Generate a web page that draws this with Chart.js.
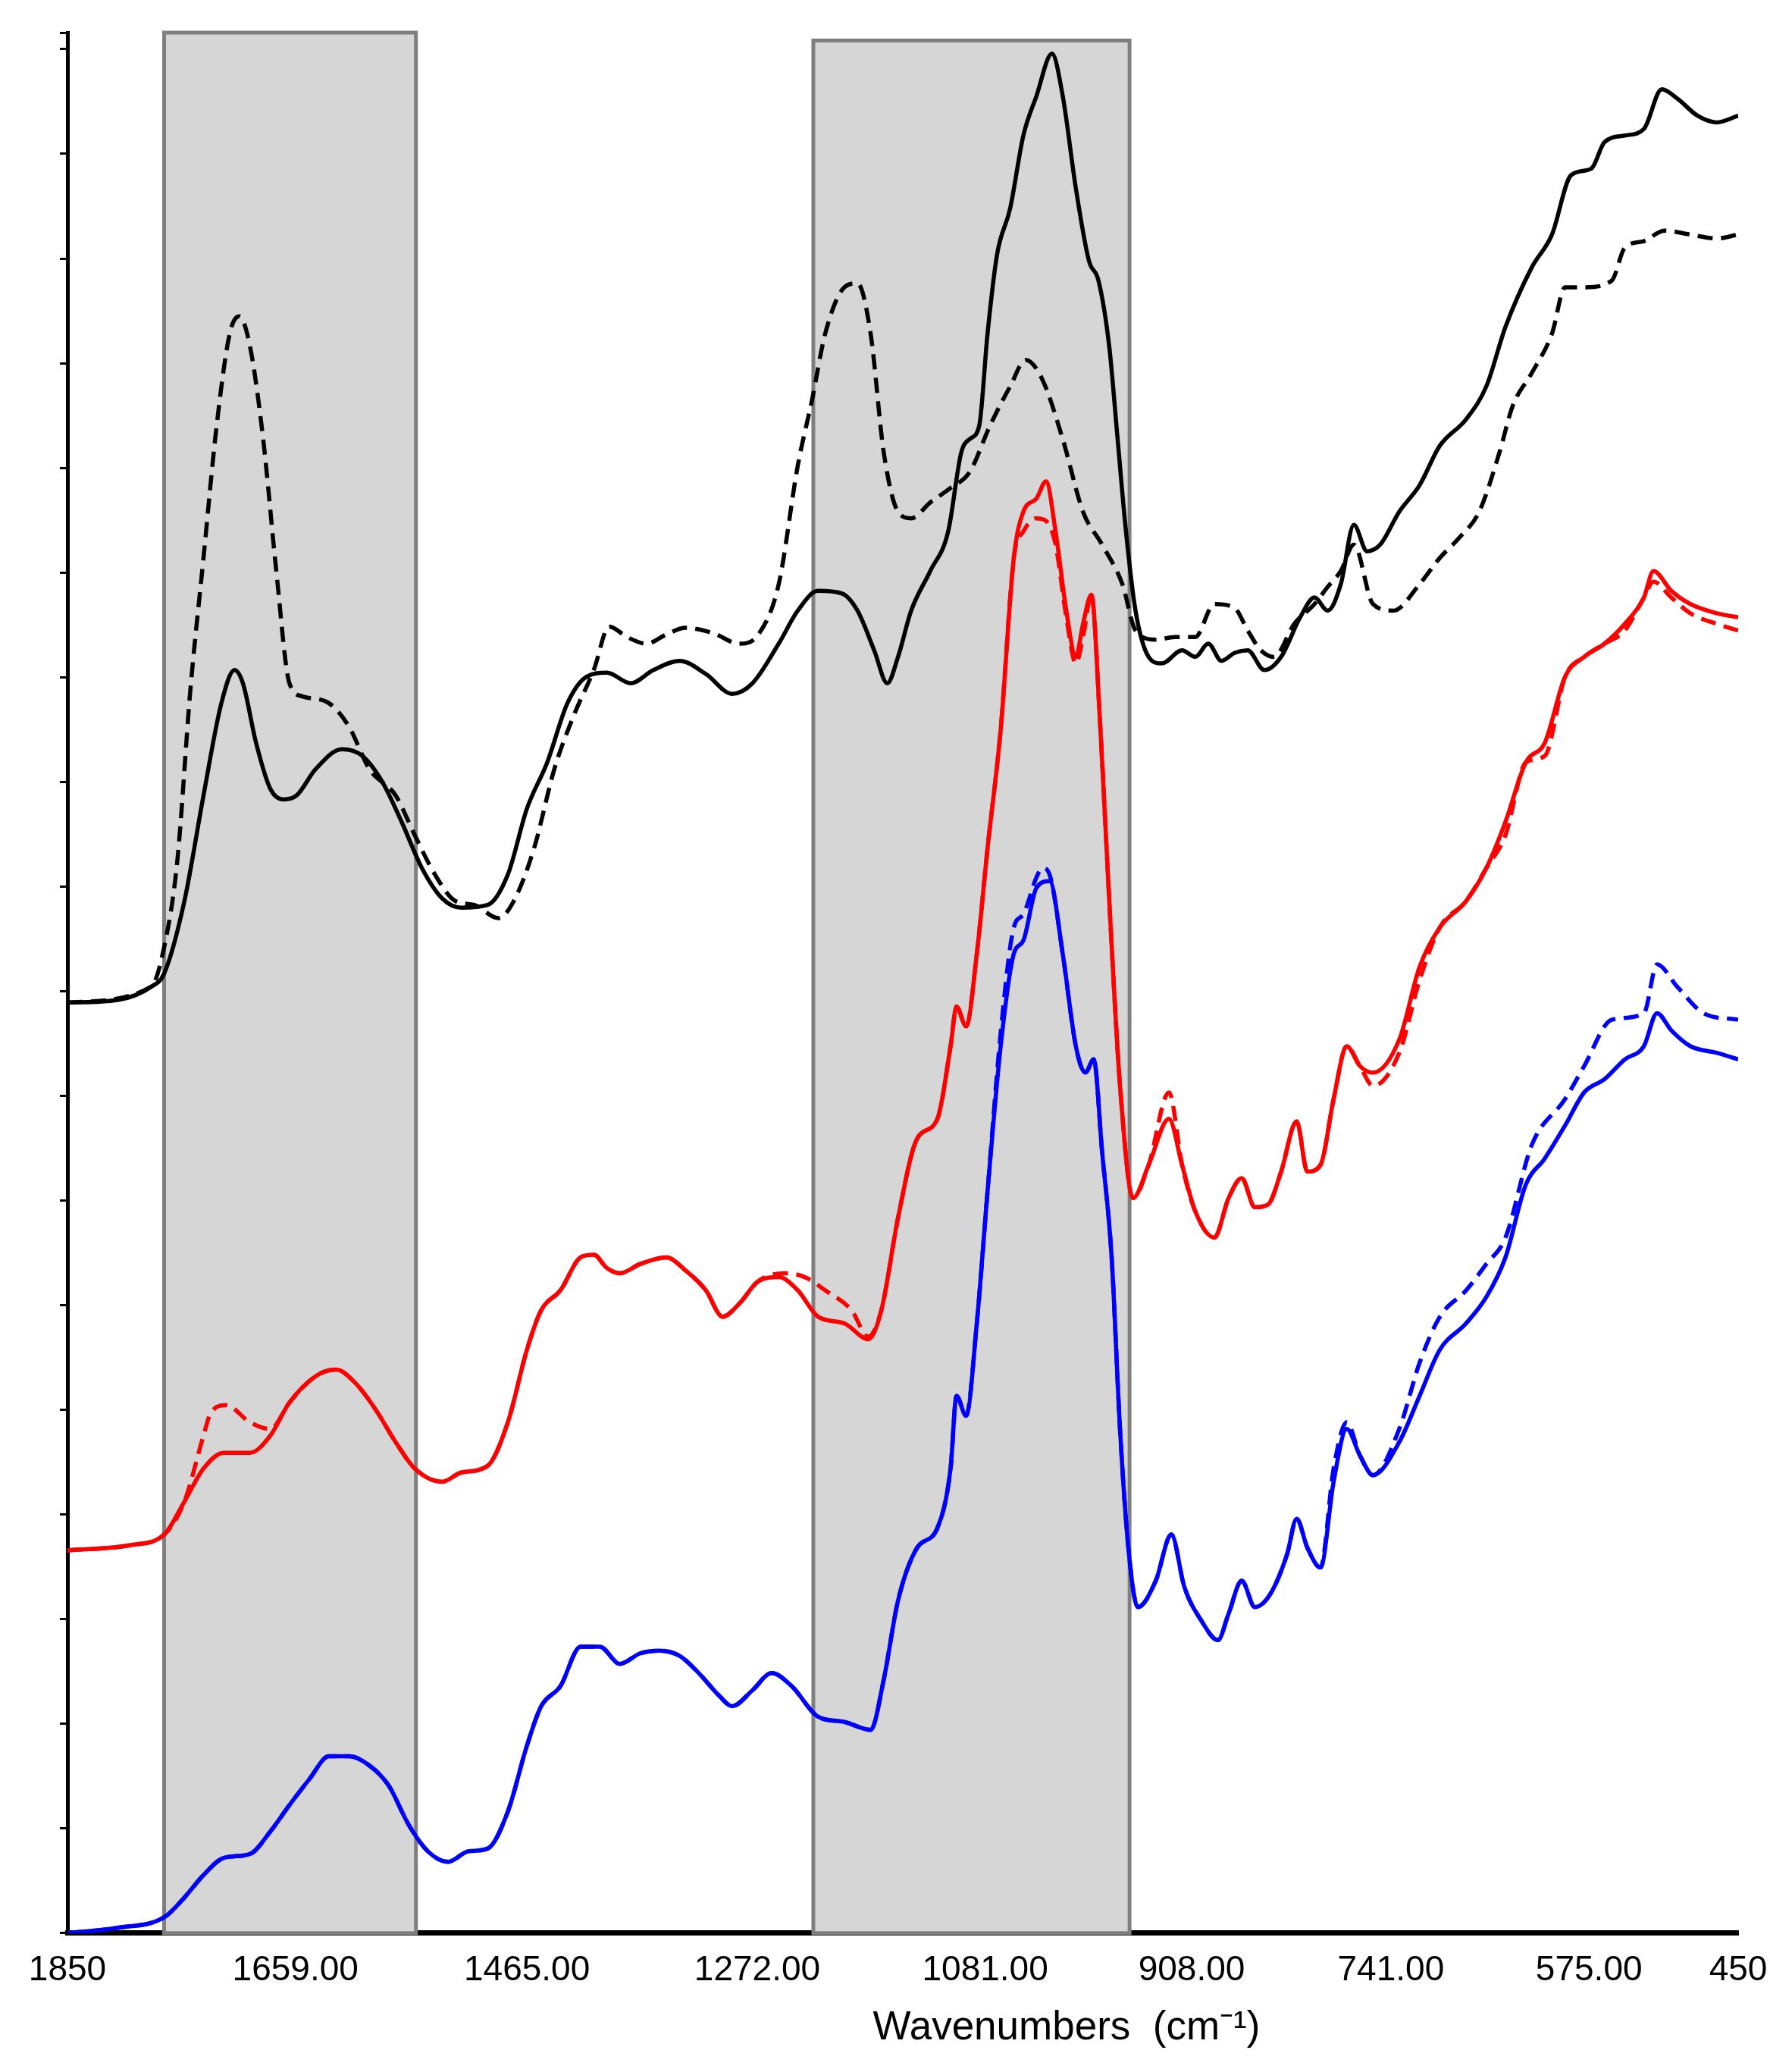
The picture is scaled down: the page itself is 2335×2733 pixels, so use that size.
<!DOCTYPE html>
<html><head><meta charset="utf-8">
<script src="https://cdn.jsdelivr.net/npm/chart.js@4/dist/chart.umd.min.js"></script>
<style>html,body{margin:0;padding:0;background:#fff}#wrap{width:2335px;height:2733px}</style>
</head><body><div id="wrap"><canvas id="c" width="2335" height="2733"></canvas></div>
<script>
const xTicks=[1850,1659,1465,1272,1081,908,741,575,450];
const xTitle='Wavenumbers  (cm\u207B\u00B9)';
const shadedBands=[[1769,1558,1440],[1225,960,1434]];
const blackSolid=[[1850,705],[1808,707],[1780,717],[1769,727],[1752,782],[1736,862],[1721,932],[1710,957],[1703,947],[1692,902],[1680,867],[1669,859],[1658,862],[1642,882],[1620,897],[1603,892],[1586,872],[1570,842],[1553,807],[1536,784],[1520,777],[1498,779],[1481,802],[1465,852],[1448,887],[1431,932],[1415,952],[1398,955],[1378,947],[1359,957],[1337,964],[1315,954],[1293,939],[1276,947],[1254,977],[1238,1002],[1221,1017],[1201,1015],[1188,1002],[1174,972],[1163,947],[1154,967],[1143,1002],[1127,1032],[1112,1062],[1101,1122],[1094,1132],[1086,1142],[1079,1212],[1071,1272],[1060,1307],[1049,1362],[1038,1392],[1025,1424],[1016,1392],[1005,1322],[994,1267],[986,1252],[977,1202],[970,1132],[963,1062],[955,1002],[944,967],[933,962],[916,972],[905,967],[894,977],[883,964],[872,970],[861,972],[847,957],[833,967],[817,997],[805,1012],[794,1002],[783,1022],[772,1067],[761,1047],[750,1052],[734,1077],[717,1097],[700,1127],[678,1147],[661,1172],[645,1217],[623,1262],[606,1287],[590,1332],[573,1337],[562,1357],[545,1362],[529,1367],[514,1397],[501,1390],[484,1377],[468,1372],[450,1377]];
const blackDashed=[[1850,705],[1780,717],[1769,747],[1758,812],[1747,942],[1736,1042],[1725,1142],[1714,1212],[1706,1225],[1697,1202],[1686,1132],[1675,1032],[1664,947],[1653,937],[1631,932],[1614,914],[1597,882],[1575,862],[1559,832],[1542,802],[1525,782],[1509,779],[1489,769],[1476,782],[1459,822],[1442,882],[1426,922],[1409,957],[1396,990],[1381,982],[1365,977],[1348,984],[1332,989],[1309,985],[1287,977],[1271,984],[1254,1022],[1238,1112],[1226,1162],[1215,1212],[1199,1247],[1188,1250],[1177,1212],[1166,1122],[1154,1077],[1143,1072],[1127,1084],[1110,1095],[1094,1107],[1077,1142],[1060,1172],[1047,1192],[1033,1177],[1016,1132],[999,1077],[983,1052],[966,1022],[955,987],[938,980],[922,982],[905,982],[889,1007],[872,1004],[861,987],[850,972],[839,967],[822,992],[805,1007],[794,1020],[783,1032],[772,1052],[756,1007],[739,1002],[717,1022],[700,1042],[684,1057],[667,1077],[650,1122],[639,1157],[623,1182],[606,1212],[595,1247],[579,1247],[556,1252],[545,1277],[529,1282],[512,1290],[490,1287],[468,1284],[450,1287]];
const redSolid=[[1850,290],[1797,294],[1769,302],[1752,327],[1736,352],[1719,364],[1697,364],[1680,377],[1664,402],[1642,422],[1625,427],[1609,417],[1592,397],[1575,372],[1559,352],[1536,342],[1520,349],[1498,354],[1481,387],[1465,442],[1453,472],[1437,487],[1420,512],[1409,514],[1398,504],[1387,500],[1370,507],[1348,512],[1332,502],[1315,487],[1301,467],[1287,477],[1271,494],[1254,497],[1238,487],[1221,467],[1199,462],[1179,450],[1168,472],[1154,542],[1138,602],[1121,617],[1110,672],[1105,702],[1097,687],[1088,742],[1079,822],[1068,912],[1057,1042],[1049,1077],[1038,1087],[1030,1100],[1022,1062],[1013,1002],[1005,967],[999,992],[992,1014],[985,922],[977,782],[968,642],[957,557],[944,582],[927,617],[916,582],[905,547],[889,527],[877,557],[866,572],[855,550],[844,552],[833,577],[820,615],[811,577],[800,582],[789,632],[778,672],[767,657],[756,652],[734,677],[717,732],[700,762],[678,782],[661,807],[645,842],[628,887],[612,902],[595,952],[579,967],[562,977],[545,992],[529,1012],[521,1032],[506,1017],[490,1007],[468,1000],[450,997]];
const redDashed=[[1850,290],[1797,294],[1769,302],[1752,327],[1736,377],[1730,394],[1717,400],[1697,387],[1680,382],[1664,402],[1642,422],[1625,427],[1609,417],[1592,397],[1575,372],[1559,352],[1536,342],[1520,349],[1498,354],[1481,387],[1465,442],[1453,472],[1437,487],[1420,512],[1409,514],[1398,504],[1387,500],[1370,507],[1348,512],[1332,502],[1315,487],[1301,467],[1287,477],[1271,494],[1249,500],[1232,497],[1215,487],[1193,472],[1179,452],[1168,472],[1154,542],[1138,602],[1121,617],[1110,672],[1105,702],[1097,687],[1088,742],[1079,822],[1068,912],[1057,1042],[1049,1062],[1038,1072],[1030,1070],[1022,1052],[1013,997],[1005,962],[999,982],[992,1014],[985,922],[977,782],[968,642],[957,557],[944,582],[927,637],[916,582],[905,547],[889,527],[877,557],[866,572],[855,550],[844,552],[833,577],[820,615],[811,577],[800,582],[789,632],[778,672],[767,657],[756,642],[734,667],[717,722],[700,762],[678,782],[661,807],[645,832],[628,887],[612,892],[595,952],[579,967],[562,977],[545,987],[529,1012],[521,1024],[506,1012],[490,1000],[468,992],[450,987]];
const blueSolid=[[1850,0],[1808,4],[1769,12],[1752,27],[1736,44],[1719,57],[1697,60],[1680,77],[1664,97],[1647,117],[1631,134],[1614,134],[1597,127],[1581,112],[1564,82],[1548,62],[1531,54],[1514,62],[1498,64],[1481,92],[1465,142],[1453,172],[1437,187],[1420,217],[1404,217],[1387,204],[1370,212],[1354,214],[1337,210],[1321,197],[1304,180],[1293,172],[1276,184],[1260,197],[1243,187],[1221,164],[1199,160],[1177,154],[1166,192],[1154,252],[1138,292],[1121,307],[1110,352],[1105,407],[1097,392],[1088,462],[1079,562],[1068,672],[1057,742],[1049,752],[1038,792],[1027,797],[1016,742],[1005,672],[997,652],[990,662],[983,592],[975,512],[968,382],[961,292],[953,247],[938,267],[925,302],[914,262],[900,237],[886,222],[877,242],[866,267],[855,247],[842,257],[828,287],[820,314],[811,292],[800,277],[789,342],[778,382],[767,362],[756,347],[734,372],[717,407],[700,442],[678,462],[661,482],[645,512],[628,567],[612,587],[595,612],[579,637],[562,647],[545,662],[529,672],[518,697],[506,684],[490,672],[468,667],[450,662]];
const blueDashed=[[1850,0],[1808,4],[1769,12],[1752,27],[1736,44],[1719,57],[1697,60],[1680,77],[1664,97],[1647,117],[1631,134],[1614,134],[1597,127],[1581,112],[1564,82],[1548,62],[1531,54],[1514,62],[1498,64],[1481,92],[1465,142],[1453,172],[1437,187],[1420,217],[1404,217],[1387,204],[1370,212],[1354,214],[1337,210],[1321,197],[1304,180],[1293,172],[1276,184],[1260,197],[1243,187],[1221,164],[1199,160],[1177,154],[1166,192],[1154,252],[1138,292],[1121,307],[1110,352],[1105,407],[1097,392],[1088,462],[1079,562],[1068,682],[1057,762],[1049,772],[1038,800],[1033,807],[1027,802],[1016,742],[1005,672],[997,652],[990,662],[983,592],[975,512],[968,382],[961,292],[953,247],[938,267],[925,302],[914,262],[900,237],[886,222],[877,242],[866,267],[855,247],[842,257],[828,287],[820,314],[811,292],[800,277],[789,352],[778,387],[767,362],[756,347],[734,382],[717,432],[700,467],[678,487],[661,507],[645,527],[623,597],[595,632],[579,657],[556,692],[529,697],[518,734],[501,717],[479,697],[450,692]];

const toPts=a=>a.map(p=>({x:p[0],y:p[1]}));
function ds(data,color,dash){return {data:toPts(data),borderColor:color,borderWidth:5.5,borderDash:dash?[20,11]:[],pointRadius:0,fill:false,cubicInterpolationMode:'monotone'};}

const bandsPlugin={id:'bands',beforeDatasetsDraw(chart){
  const {ctx,scales:{x,y}}=chart;ctx.save();
  shadedBands.forEach(b=>{const x1=x.getPixelForValue(b[0]),x2=x.getPixelForValue(b[1]);const yt=y.getPixelForValue(b[2]),yb=y.getPixelForValue(0);
    ctx.fillStyle='#d6d6d6';ctx.fillRect(x1,yt,x2-x1,yb-yt);ctx.strokeStyle='#7f7f7f';ctx.lineWidth=5;ctx.strokeRect(x1,yt,x2-x1,yb-yt);});
  ctx.restore();},
 afterDraw(chart){const {ctx,chartArea:a}=chart;ctx.save();ctx.fillStyle='#000';ctx.font='53px "Liberation Sans", Arial';ctx.textAlign='center';ctx.textBaseline='middle';
  ctx.fillText(xTitle,a.left+0.598*(a.right-a.left),2675);ctx.restore();}};

new Chart(document.getElementById('c'),{type:'line',
 data:{datasets:[ds(blackSolid,'#000',false),ds(blackDashed,'#000',true),ds(redSolid,'#ff0000',false),ds(redDashed,'#ff0000',true),ds(blueSolid,'#0000ff',false),ds(blueDashed,'#0000ff',true)]},
 options:{responsive:false,animation:false,devicePixelRatio:1,
  layout:{padding:{left:79,right:42,top:43,bottom:84}},
  plugins:{legend:{display:false},tooltip:{enabled:false}},
  scales:{
   x:{type:'linear',reverse:true,min:450,max:1850,
     afterBuildTicks:s=>{s.ticks=xTicks.map(v=>({value:v}));},
     afterFit:s=>{s.paddingLeft=0;s.paddingRight=0;},
     ticks:{autoSkip:false,maxRotation:0,color:'#000',font:{family:'Liberation Sans, Arial',size:46},padding:22,
       callback:v=>(v===1850||v===450)?String(v):v.toFixed(2)},
     grid:{display:true,drawOnChartArea:false,drawTicks:false},
     border:{display:true,color:'#000',width:7},
     title:{display:false}},
   y:{type:'linear',min:0,max:1440,
     ticks:{stepSize:79.3,callback:()=>'',padding:0},
     grid:{drawOnChartArea:false,drawTicks:true,tickLength:10,color:'#000',lineWidth:3},
     border:{display:true,color:'#000',width:5}}
  }},
 plugins:[bandsPlugin]});
</script></body></html>
